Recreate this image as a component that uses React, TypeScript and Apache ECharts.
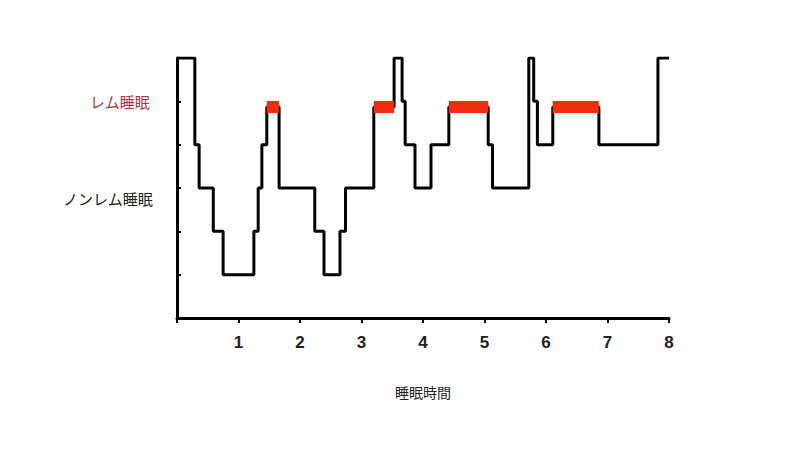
import React, { useEffect, useRef } from "react";
import * as echarts from "echarts";

// hypnogram: stage level holds from each time until the next one
// 6 = 覚醒, 5 = レム, 4..1 = ノンレム 1..4
const REM = 4.87;
const stageTimes = [
    0, 0.29, 0.36, 0.59, 0.75, 1.25, 1.32, 1.38, 1.46, 1.66, 2.24, 2.39, 2.65, 2.74,
    3.2, 3.53, 3.66, 3.71, 3.87, 4.13, 4.42, 5.06, 5.13, 5.72, 5.8, 5.86, 6.11, 6.86,
    7.82, 8.0,
];
const stageLevels = [
    6, 4, 3, 2, 1, 2, 3, 4, REM, 3, 2, 1, 2, 3,
    REM, 6, 5, 4, 3, 4, REM, 4, 3, 6, 5, 4, REM, 4,
    6, 6,
];
// REM periods drawn as red bars
const remStarts = [1.46, 3.2, 4.42, 6.11];
const remEnds = [1.66, 3.53, 5.06, 6.86];

const hourLabels = ["", "1", "2", "3", "4", "5", "6", "7", "8"];

const CJK = "'Noto Sans CJK JP', 'Noto Sans', sans-serif";

const App: React.FC = () => {
    const ref = useRef<HTMLDivElement | null>(null);

    useEffect(() => {
        if (!ref.current) return;
        const chart = echarts.init(ref.current, undefined, { renderer: "svg" });

        const remSeries = remStarts.map((s, i) => ({
            type: "line",
            data: [
                [s, REM],
                [remEnds[i], REM],
            ],
            symbol: "none",
            z: 3,
            lineStyle: { color: "#f32b10", width: 12, cap: "butt" },
        }));

        chart.setOption({
            animation: false,
            grid: { left: 177, right: 131, top: 58, bottom: 132 },
            xAxis: {
                type: "value",
                min: 0,
                max: 8,
                interval: 1,
                name: "睡眠時間",
                nameLocation: "middle",
                nameGap: 67,
                nameTextStyle: { fontFamily: CJK, fontSize: 14, color: "#222" },
                axisLine: { lineStyle: { color: "#000", width: 3 } },
                axisTick: { show: true, length: 5, lineStyle: { color: "#000", width: 2 } },
                splitLine: { show: false },
                axisLabel: {
                    margin: 16,
                    fontFamily: "'Liberation Sans', Arial, sans-serif",
                    fontWeight: "bold",
                    fontSize: 17,
                    color: "#222",
                    formatter: (v: number) => hourLabels[v] ?? "",
                },
            },
            yAxis: {
                type: "value",
                min: 0,
                max: 6,
                interval: 1,
                axisLine: { show: true, lineStyle: { color: "#000", width: 3 } },
                axisTick: { show: true, inside: true, length: 4, lineStyle: { color: "#000", width: 2 } },
                axisLabel: { show: false },
                splitLine: { show: false },
            },
            graphic: [
                {
                    type: "text",
                    right: 800 - 150,
                    top: 94,
                    style: {
                        text: "レム睡眠",
                        fill: "#b03242",
                        font: `15px ${CJK}`,
                    },
                },
                {
                    type: "text",
                    right: 800 - 153,
                    top: 191,
                    style: {
                        text: "ノンレム睡眠",
                        fill: "#222",
                        font: `15px ${CJK}`,
                    },
                },
            ],
            series: [
                {
                    type: "line",
                    step: "end",
                    data: stageTimes.map((t, i) => [t, stageLevels[i]]),
                    symbol: "none",
                    z: 2,
                    lineStyle: { color: "#000", width: 3 },
                },
                ...remSeries,
            ],
        });

        return () => chart.dispose();
    }, []);

    return <div ref={ref} style={{ width: 800, height: 450, margin: -8 }} />;
};

export default App;
